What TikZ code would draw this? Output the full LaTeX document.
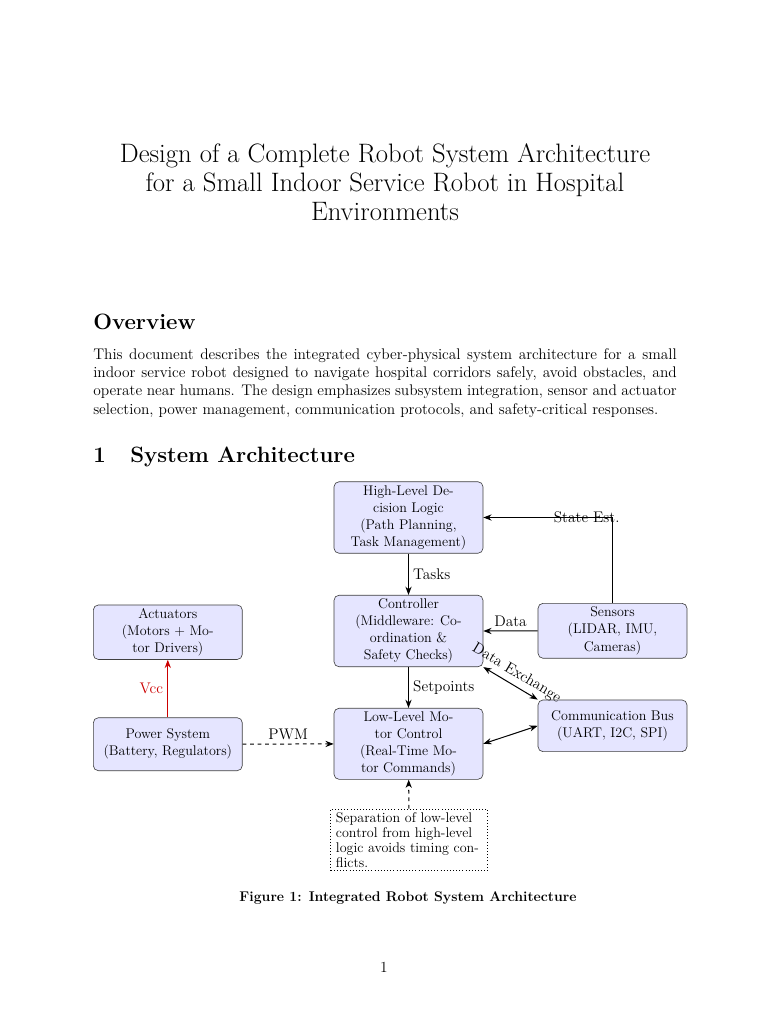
\documentclass[tikz,border=0pt]{standalone}
\usetikzlibrary{arrows.meta}
\newcommand\fsnorm{\fontsize{12.27}{14.5}\selectfont}
\newcommand\fssm{\fontsize{11.2}{13.6}\selectfont}
\newcommand\fsnote{\fontsize{11.2}{12}\selectfont}
\newcommand\fstitle{\fontsize{21.25}{25}\selectfont}
\newcommand\fshead{\fontsize{17.68}{22}\selectfont\bfseries}
\tikzset{
  blk/.style={draw=black!75, line width=0.5pt, fill=blue!10, rounded corners=4pt,
    align=center, font=\fssm, minimum width=118.7pt, inner sep=0pt},
  notebox/.style={draw=black, dotted, line width=0.5pt, font=\fsnote, align=left,
    text width=116.4pt, inner xsep=4.2pt, inner ysep=0pt, minimum height=49.2pt},
  conn/.style={-{Stealth}, thick},
  lbl/.style={font=\fsnorm},
  txt/.style={inner sep=0pt, font=\fsnorm},
}
\begin{document}
\begin{tikzpicture}[x=0.796875pt, y=-0.796875pt]
\fill[white] (0,0) rectangle (768,1024);
\useasboundingbox (0,0) rectangle (768,1024);

% title
\node[txt, font=\fstitle, anchor=base] (t1) at (385,162) {Design of a Complete Robot System Architecture};
\node[txt, font=\fstitle, anchor=base] (t2) at (385,191) {for a Small Indoor Service Robot in Hospital};
\node[txt, font=\fstitle, anchor=base] (t3) at (385,220) {Environments};

% overview
\node[txt, font=\fshead, anchor=base west] (ov) at (93,329) {Overview};
\node[txt, anchor=base west] (p1) at (93,359.5) {\makebox[465pt][s]{This document describes the integrated cyber-physical system architecture for a small}};
\node[txt, anchor=base west] (p2) at (93,377.7) {\makebox[465pt][s]{indoor service robot designed to navigate hospital corridors safely, avoid obstacles, and}};
\node[txt, anchor=base west] (p3) at (93,395.9) {\makebox[465pt][s]{operate near humans. The design emphasizes subsystem integration, sensor and actuator}};
\node[txt, anchor=base west] (p4) at (93,414.1) {selection, power management, communication protocols, and safety-critical responses.};

% section
\node[txt, font=\fshead, anchor=base west] (secn) at (93,462) {1};
\node[txt, font=\fshead, anchor=base west] (sect) at (130,462) {System Architecture};

% diagram boxes
\node[blk, minimum height=57pt] (high) at (408.5,517.5) {High-Level De-\\cision Logic\\(Path Planning,\\Task Management)};
\node[blk, minimum height=57pt] (ctrl) at (408.5,631) {Controller\\(Middleware: Co-\\ordination \&\\Safety Checks)};
\node[blk, minimum height=56.6pt] (low) at (408.5,743.8) {Low-Level Mo-\\tor Control\\(Real-Time Mo-\\tor Commands)};
\node[blk, minimum height=43.4pt] (act) at (167.8,632.2) {Actuators\\(Motors + Mo-\\tor Drivers)};
\node[blk, minimum height=43.8pt] (sens) at (612.5,630.8) {Sensors\\(LIDAR, IMU,\\Cameras)};
\node[blk, minimum height=42.2pt] (pow) at (167.8,744.2) {Power System\\(Battery, Regulators)};
\node[blk, minimum height=41.2pt] (comm) at (612.5,725.8) {Communication Bus\\(UART, I2C, SPI)};
\node[notebox] (note) at (409,839.8) {\makebox[109pt][s]{Separation of low-level}\\\makebox[109pt][s]{control from high-level}\\\makebox[109pt][s]{logic avoids timing con-}\\flicts.};

% connectors
\draw[conn] (high) -- node[lbl, right] {Tasks} (ctrl);
\draw[conn] (sens.north) |- node[lbl, pos=0.6] {State Est.} (high.east);
\draw[conn] (sens.west) -- node[lbl, above] {Data} (ctrl.east);
\draw[conn] (ctrl) -- node[lbl, right] {Setpoints} (low);
\draw[thick, {Stealth}-{Stealth}] (ctrl.south east) -- node[lbl, above, sloped] {Data Exchange} (comm.north west);
\draw[thick, {Stealth}-{Stealth}] (low.east) -- (comm.west);
\draw[conn, dashed] (pow) -- node[lbl, above] {PWM} (low);
\draw[conn, red!80!black] (pow) -- node[lbl, left] {Vcc} (act);
\draw[conn, dashed] (note) -- (low);

% caption and page number
\node[txt, font=\fssm\bfseries, anchor=base] (cap) at (408,901.7) {Figure 1: Integrated Robot System Architecture};
\node[txt, anchor=base] (pg) at (384,972) {1};
\end{tikzpicture}
\end{document}
